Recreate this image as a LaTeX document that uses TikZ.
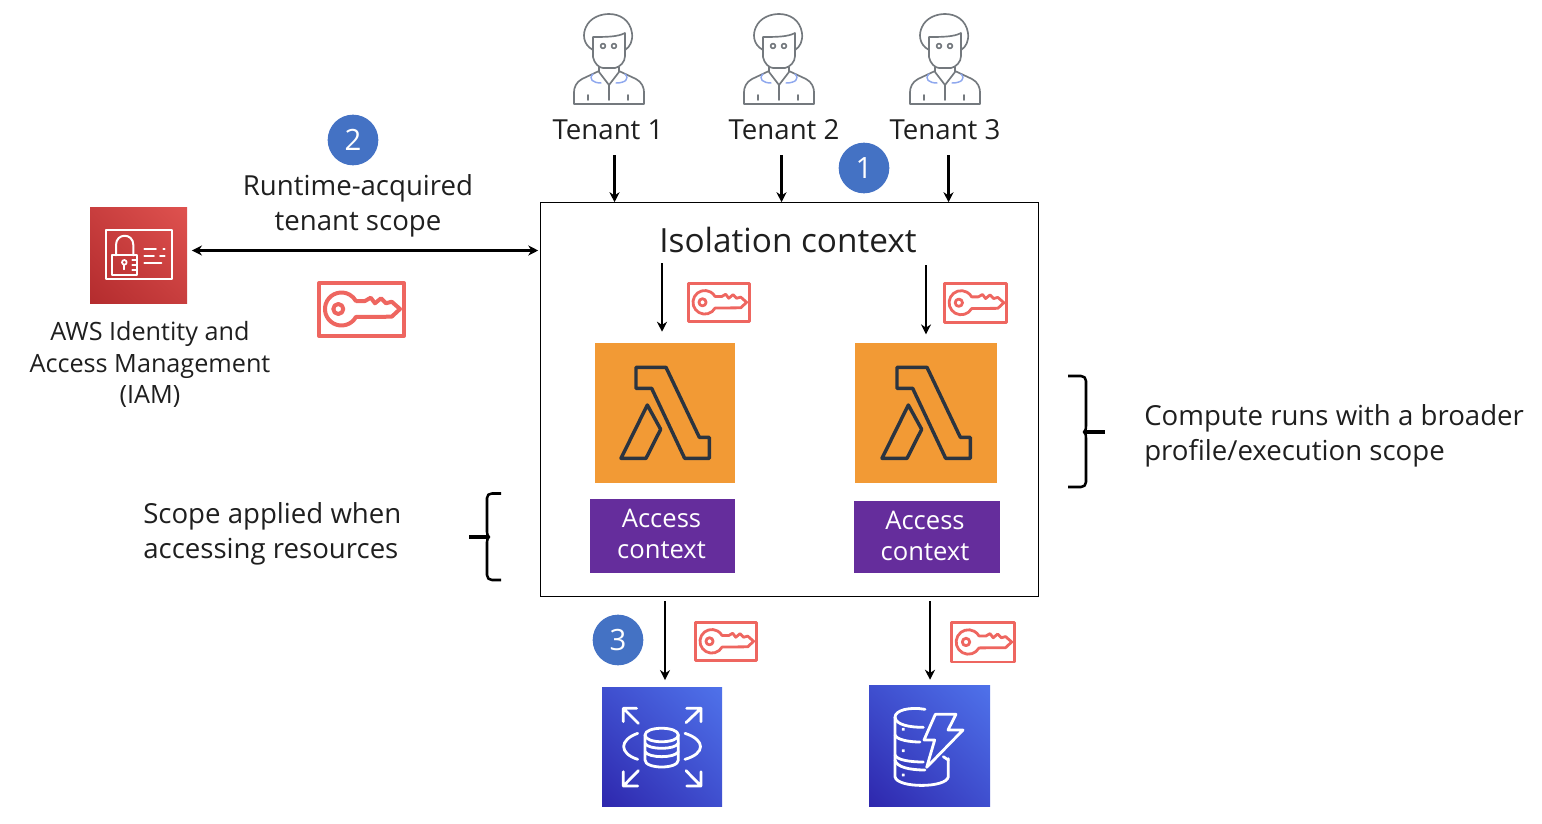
\documentclass[tikz,border=0pt]{standalone}
\usepackage{fontspec}
\setmainfont{Open Sans}
\usetikzlibrary{arrows.meta,shadings}
\definecolor{keyred}{HTML}{EE6660}
\definecolor{badge}{HTML}{4472C4}
\definecolor{orng}{HTML}{F29A35}
\definecolor{purp}{HTML}{652D9C}
\definecolor{lamb}{HTML}{2B3440}
\definecolor{txt}{HTML}{1F1F1F}
\definecolor{pers}{HTML}{74797E}
\definecolor{collar}{HTML}{8FA8EE}
\definecolor{bluelo}{HTML}{2E27AD}
\definecolor{bluemid}{HTML}{3F4FCF}
\definecolor{bluehi}{HTML}{4F72EA}
\definecolor{redlo}{HTML}{B42C2E}
\definecolor{redmid}{HTML}{C83E3E}
\definecolor{redhi}{HTML}{DF524F}
\tikzset{
  x=0.75pt,y=-0.75pt,
  arr/.style={draw=black,line width=2.1pt,-{Stealth[length=7.5pt,width=7.5pt]}},
  darr/.style={draw=black,line width=1.8pt,{Stealth[length=7.5pt,width=7.5pt]}-{Stealth[length=7.5pt,width=7.5pt]}},
  lab/.style={inner sep=0pt,text=txt,font=\fontsize{20.7}{26.25}\selectfont,align=center},
  labl/.style={lab,align=left,anchor=west},
  iamlab/.style={lab,font=\fontsize{18.9}{23.6}\selectfont},
  badgec/.style={circle,fill=badge,text=white,inner sep=0pt,minimum size=38pt,font=\fontsize{22}{26}\selectfont},
  lambdabox/.style={fill=orng,draw=none,inner sep=0pt,minimum width=105.5pt,minimum height=105.5pt},
  ctxbox/.style={fill=purp,inner sep=0pt},
  ctx/.style={text=white,inner sep=0pt,align=center,font=\fontsize{19.2}{22.7}\selectfont},
  iconline/.style={draw=white,line width=2.1pt,line cap=round,line join=round},
  brace/.style={draw=black,line width=1.9pt,line join=round},
  bracetick/.style={draw=black,line width=2.4pt},
  pline/.style={draw=pers,line width=1.25pt,line cap=round,line join=round},
  blueicon/.style={rectangle,inner sep=0pt,lower left=bluelo,upper right=bluehi,upper left=bluemid,lower right=bluemid},
  redicon/.style={rectangle,inner sep=0pt,lower left=redlo,upper right=redhi,upper left=redmid,lower right=redmid},
}
% key icon: #1,#2 top-left of frame, #3 scale, #4 line width
\newcommand{\keyicon}[4]{%
\begin{scope}[shift={(#1,#2)},scale=#3,draw=keyred,line width=#4,line join=round]
  \draw (1,1) rectangle (86,54);
  \draw (20.3,27) circle (5);
  \draw (37.9,19) -- (47,19) -- (52.7,15.7) -- (57,21.3) -- (63,16.3) -- (68,21.3) -- (73.7,19.7) -- (82,27) -- (73.7,34.7) -- (37.9,35)
        arc[start angle=29,end angle=331,radius=16.5] -- cycle;
\end{scope}}
\newcommand{\person}[1]{%
\begin{scope}[shift={(#1,0)}]
  \draw[pline] (33,50) .. controls (22,44) and (23,33) .. (26,27) .. controls (30,18) and (40,14) .. (49,14) .. controls (60,14) and (70,20) .. (72,33) .. controls (73,41) and (70,47) .. (65,50);
  \draw[pline] (33,37) -- (33,57) .. controls (34,63) and (39,68) .. (43,68) -- (55,68) .. controls (60,67) and (65,62) .. (65,56) -- (65,33) .. controls (58,37) and (45,37) .. (33,37);
  \draw[pline] (43,46) circle (2.4);
  \draw[pline] (54,46) circle (2.4);
  \draw[pline] (39,67) -- (39,72) -- (49,85) -- (59,72) -- (59,67);
  \draw[pline] (39,71) -- (22,79) .. controls (16,82) and (14,88) .. (14,92) -- (14,104) -- (84,104) -- (84,92) .. controls (84,88) and (82,82) .. (76,79) -- (59,71);
  \draw[pline] (49,85) -- (49,100);
  \draw[pline] (28,95) -- (28,100);
  \draw[pline] (68,95) -- (68,100);
  \draw[draw=collar,line width=1.1pt,line cap=round] (33,74) .. controls (28,79) and (33,83) .. (41,83);
  \draw[draw=collar,line width=1.1pt,line cap=round] (65,74) .. controls (70,79) and (65,83) .. (56,83);
\end{scope}}
\newcommand{\lambdaglyph}[2]{%
\begin{scope}[shift={(#1,#2)},scale=1/3,draw=lamb,line width=2.6pt,line join=round]
  \draw (138,82) -- (228,82) -- (328,292) -- (358,292) -- (358,355) -- (284,355) -- (185,145) -- (138,145) -- cycle;
  \draw (172,195) -- (212,268) -- (168,355) -- (93,355) -- cycle;
\end{scope}}
\begin{document}
\begin{tikzpicture}
\useasboundingbox (0,0) rectangle (1542,824);
% people
\person{560}\person{730}\person{896}
\node[lab] (t1) at (608,130) {Tenant 1};
\node[lab] (t2) at (784,130) {Tenant 2};
\node[lab] (t3) at (945,130) {Tenant 3};
% main box
\node[draw=black,line width=0.9pt,inner sep=0pt,minimum width=373pt,minimum height=295pt] (box) at (789.5,399.5) {};
\node[lab,font=\fontsize{25}{30}\selectfont] (iso) at (788,240) {Isolation context};
% badges
\node[badgec] (b1) at (864,168) {1};
\node[badgec] (b2) at (353,140) {2};
\node[badgec] (b3) at (618,640) {3};
% iam
\node[redicon,minimum width=72.75pt,minimum height=72pt] (iam) at (138.5,255) {};
\begin{scope}[shift={(80,200)},scale=1/3]
  \draw[iconline,line width=1.5pt] (77,91) rectangle (275,236);
  \draw[iconline,line width=1.5pt] (97,166) rectangle (172,226);
  \draw[iconline,line width=1.5pt] (108,166) -- (108,135) .. controls (108,98) and (160,98) .. (160,135) -- (160,166);
  \draw[iconline,line width=1.3pt] (133,187) circle (7);
  \draw[iconline,line width=1.3pt] (133,194) -- (133,208);
  \draw[iconline,line width=1.3pt] (157,180) -- (170,180) (157,195) -- (170,195) (157,210) -- (170,210);
  \draw[iconline,line width=1.4pt] (193,146) -- (228,146) (250,146) -- (254,146) (193,167) -- (222,167) (240,167) -- (254,167) (193,188) -- (244,188);
\end{scope}
\node[iamlab] (iamt) at (150,364.5) {AWS Identity and\\Access Management\\(IAM)};
\node[lab] (rt) at (358,205.5) {Runtime-acquired\\tenant scope};
\coordinate (dy) at (0,250.5);
\draw[darr,shorten <=3.5pt,shorten >=1.5pt] (iam.east |- dy) -- (box.west |- dy);
% keys
\keyicon{318}{282}{1}{3pt}
\keyicon{688}{283}{0.715}{2.1pt}
\keyicon{944}{283}{0.73}{2.1pt}
\keyicon{695}{622}{0.715}{2.1pt}
\keyicon{951}{622}{0.74}{2.1pt}
% lambdas
\node[lambdabox] (l1) at (665,413) {};
\node[lambdabox,minimum width=106.5pt] (l2) at (926,413) {};
\lambdaglyph{590}{340}
\lambdaglyph{851}{340}
% contexts
\node[ctxbox,minimum width=108.75pt,minimum height=55.5pt] (c1) at (662.5,536) {};
\node[ctxbox,minimum width=109.5pt,minimum height=54pt] (c2) at (926.5,537) {};
\node[ctx] (c1t) at (661.5,534) {Access\\context};
\node[ctx] (c2t) at (925,536) {Access\\context};
% arrows
\coordinate (x1) at (614.5,155);
\coordinate (x2) at (781.5,155);
\coordinate (x3) at (948.5,155);
\draw[arr] (x1) -- (x1 |- box.north);
\draw[arr] (x2) -- (x2 |- box.north);
\draw[arr] (x3) -- (x3 |- box.north);
\coordinate (y1) at (662,263);
\coordinate (y2) at (926,265);
\draw[arr,shorten >=8pt] (y1) -- (y1 |- l1.north);
\draw[arr,shorten >=6pt] (y2) -- (y2 |- l2.north);
% stores
\node[blueicon,minimum width=90pt,minimum height=89.25pt] (rds) at (662,746.5) {};
\node[blueicon,minimum width=90.75pt,minimum height=90.75pt] (ddb) at (929.5,745.5) {};
\coordinate (z1) at (665,601);
\coordinate (z2) at (930,601);
\draw[arr,shorten >=5pt] (z1) -- (z1 |- rds.north);
\draw[arr,shorten >=3.75pt] (z2) -- (z2 |- ddb.north);
% rds glyph
\begin{scope}[shift={(595,680)},scale=1/3,iconline]
  \draw (85,125) -- (85,85) -- (125,85) (85,85) -- (130,130);
  \draw (275,85) -- (318,85) -- (318,125) (318,85) -- (273,128);
  \draw (85,275) -- (85,318) -- (128,318) (85,318) -- (130,272);
  \draw (275,318) -- (318,318) -- (318,275) (318,318) -- (273,272);
  \draw (128,160) .. controls (72,180) and (72,220) .. (128,238);
  \draw (270,160) .. controls (332,180) and (332,220) .. (270,238);
  \draw (150,165) .. controls (150,138) and (250,138) .. (250,165) .. controls (250,192) and (150,192) .. (150,165);
  \draw (150,165) -- (150,240) .. controls (150,268) and (250,268) .. (250,240) -- (250,165);
  \draw (150,190) .. controls (160,210) and (240,210) .. (250,190);
  \draw (150,215) .. controls (160,235) and (240,235) .. (250,215);
\end{scope}
% dynamodb glyph
\begin{scope}[shift={(860,680)},scale=1/3,iconline]
  \draw (105,112) .. controls (105,90) and (150,80) .. (195,88);
  \draw (105,112) .. controls (108,135) and (150,142) .. (190,142);
  \draw (105,112) -- (105,290) .. controls (110,325) and (260,325) .. (265,290) -- (265,236);
  \draw (105,165) .. controls (110,180) and (150,186) .. (180,186);
  \draw (105,225) .. controls (110,240) and (150,246) .. (190,246);
  \draw (105,240) .. controls (110,262) and (150,270) .. (195,270);
  \draw (250,230) -- (265,240);
  \draw (226,103) -- (288,103) -- (264,150) -- (309,150) -- (200,262) -- (224,180) -- (192,180) -- cycle;
  \draw (130,148) circle (1.2);
  \draw (130,212) circle (1.2);
  \draw (130,285) circle (1.2);
\end{scope}
% braces
\draw[brace] (1068,376) -- (1081,376) .. controls (1084,376) and (1086,378) .. (1086,381) -- (1086,426) .. controls (1086,430) and (1085,431) .. (1084,432) .. controls (1085,433) and (1086,434) .. (1086,438) -- (1086,482) .. controls (1086,485) and (1084,487) .. (1081,487) -- (1068,487);
\draw[bracetick] (1084,432) -- (1105,432);
\draw[brace] (501,493.5) -- (492,493.5) .. controls (489,493.5) and (487,495) .. (487,498) -- (487,532) .. controls (487,535) and (488,536) .. (489,537) .. controls (488,538) and (487,539) .. (487,542) -- (487,575) .. controls (487,578) and (489,580) .. (492,580) -- (501,580);
\draw[bracetick] (469,537) -- (489,537);
\node[labl] (sc) at (143,533.5) {Scope applied when\\accessing resources};
\node[labl] (cp) at (1144,435.5) {Compute runs with a broader\\profile/execution scope};
\end{tikzpicture}
\end{document}
